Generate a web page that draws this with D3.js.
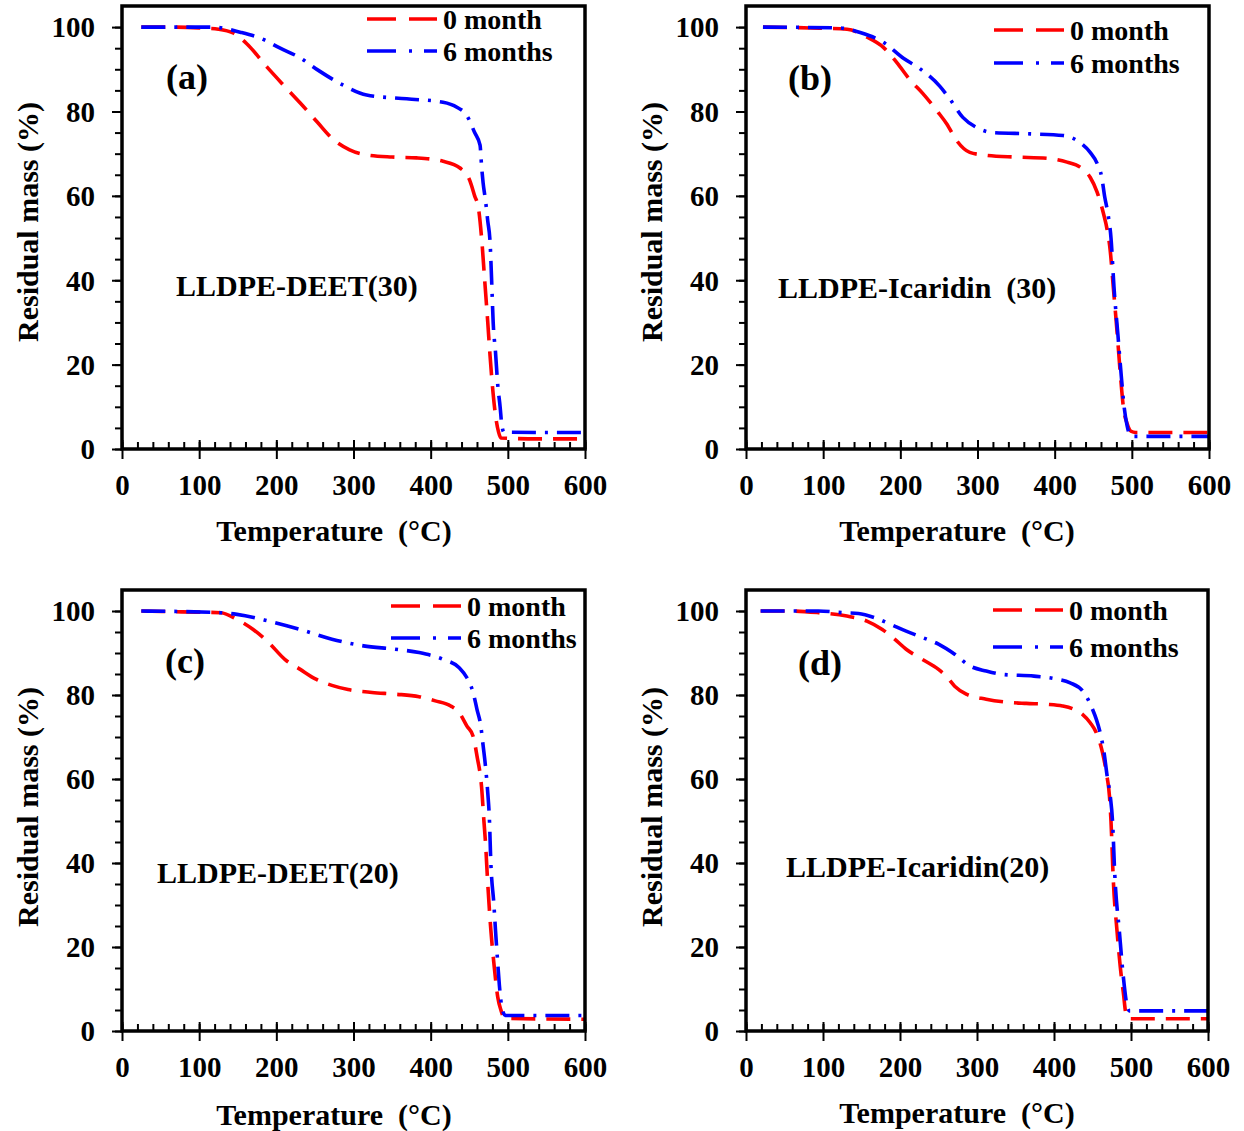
<!DOCTYPE html>
<html>
<head>
<meta charset="utf-8">
<script src="https://cdn.jsdelivr.net/npm/d3@7"></script>
<style>
  body { margin: 0; background: #fff; }
  svg text { font-family: "Liberation Serif", "Times New Roman", serif; font-weight: bold; fill: #000; }
</style>
</head>
<body>
<svg id="chart" width="1244" height="1131"></svg>
<script>
// series names and tick labels
const seriesNames = ["0 month", "6 months"];
const xTicks = [0, 100, 200, 300, 400, 500, 600];
const yTicks = [0, 20, 40, 60, 80, 100];

// [temperature (°C), residual mass (%)]
const deet30_0 = [[25,100],[60,100],[100,99.8],[125,99.5],[144,98.6],[162,96],[188,90.5],[209,86.3],[231,82],[253,77.5],[273,73.5],[295,70.9],[317,69.7],[350,69.2],[382,69],[416,68.2],[438,66.6],[451,63.5],[457,60],[462,57],[466,50],[470,40],[474,30],[477,22],[481,13],[484,8],[488,4],[491,2.6],[540,2.4],[600,2.4]];
const deet30_6 = [[25,100],[118,100],[153,98.8],[179,97.4],[205,95],[231,92.7],[254,89.8],[286,86.3],[317,83.9],[369,83],[416,82.2],[434,81],[447,79],[457,75],[464,72],[466,67],[468,63],[471,59],[474,54],[477,49],[479,40],[481,30],[484,23],[487,15],[490,10],[492,6],[495,4],[540,3.9],[600,3.9]];

const icar30_0 = [[22,100],[83,99.8],[131,99.5],[157,97.6],[178,95.2],[195,91.7],[213,87.4],[229,84.3],[249,79.8],[260,77.1],[273,73.1],[290,70.3],[312,69.6],[350,69.2],[390,68.9],[416,68],[433,66.8],[446,64.4],[455,60.9],[463,56],[468,52],[472,47],[476,38.3],[481,27.5],[485,18],[489,10],[494,6],[499,4.2],[505,3.9],[600,3.9]];
const icar30_6 = [[22,100],[120,99.8],[148,98.7],[178,96.4],[204,92.6],[225,90.2],[251,86],[264,83],[281,78.6],[299,76.2],[320,75],[368,74.7],[411,74.3],[433,72.6],[446,70.3],[455,67.7],[461,64.4],[465,59.6],[469,55.8],[473,50],[477,38],[482,27],[486,18],[490,10],[494,5.4],[498,3.2],[502,3],[600,3]];

const deet20_0 = [[25,100],[77,99.8],[128,99.6],[149,98],[170,95.6],[190,92.5],[211,88.5],[231,86.1],[252,83.7],[272,82.3],[293,81.3],[324,80.6],[354,80.2],[385,79.6],[406,78.6],[426,77.4],[437,75.8],[447,72.6],[455,70.2],[460,65.5],[466,58],[469,50],[471,45],[474,35],[478,24],[482,16],[487,8],[491,5],[496,3],[600,2.8]];
const deet20_6 = [[25,100],[128,99.6],[149,99.2],[190,97.6],[231,95.6],[272,93.3],[313,91.7],[354,90.9],[385,90.1],[416,88.5],[437,86.5],[447,84.1],[455,80.6],[460,76.6],[465,72.6],[468,67.9],[471,63.1],[474,56.7],[476,51],[478,40],[482,30],[484,24],[487,16],[489,11],[493,5],[497,3.7],[600,3.7]];

const icar20_0 = [[19,100],[58,100],[94,99.6],[131,98.8],[157,97.6],[177,95.6],[193,93.3],[208,90.9],[229,88.5],[250,86.1],[260,84.5],[271,82.1],[286,80.2],[312,79],[338,78.3],[364,78],[390,77.8],[411,77.4],[426,76.6],[437,75.4],[447,73.4],[455,71],[463,66.3],[468,61.5],[472,56],[474,50],[477,36],[482,23.5],[486,15.4],[490,9.2],[494,3.6],[498,2.9],[600,2.9]];
const icar20_6 = [[19,100],[94,100],[126,99.6],[146,99.4],[167,98.4],[188,96.8],[208,95.2],[229,93.7],[250,92.1],[271,89.7],[291,86.9],[312,85.7],[333,84.9],[374,84.5],[400,83.9],[421,82.9],[437,81],[444,79],[450,76.6],[455,74.2],[460,71],[465,66.3],[469,60.7],[473,56],[476,50],[479,37],[485,23.5],[490,13],[494,6.9],[498,4.8],[600,4.8]];

const colors = ["#ff0000", "#0000ff"];
const dashes = ["24,11", "24,9,3,9"];

// panel layout
const panels = [
  { left: 122, right: 585, top: 6, bottom: 449, label: "(a)", lx: 187, ly: 76, name: "LLDPE-DEET(30)", nx: 176, ny: 285,
    series: [deet30_0, deet30_6], legX: 245, legY: [13, 45], ytx: 27, yty: 222, xtx: 334, xty: 530 },
  { left: 746, right: 1209, top: 6, bottom: 449, label: "(b)", lx: 810, ly: 77, name: "LLDPE-Icaridin\u00a0\u00a0(30)", nx: 778, ny: 287,
    series: [icar30_0, icar30_6], legX: 248, legY: [24, 57], ytx: 651, yty: 222, xtx: 957, xty: 530 },
  { left: 122, right: 585, top: 590, bottom: 1031, label: "(c)", lx: 185, ly: 660, name: "LLDPE-DEET(20)", nx: 157, ny: 872,
    series: [deet20_0, deet20_6], legX: 269, legY: [16, 48], ytx: 27, yty: 807, xtx: 334, xty: 1114 },
  { left: 746, right: 1208, top: 590, bottom: 1031, label: "(d)", lx: 820, ly: 662, name: "LLDPE-Icaridin(20)", nx: 786, ny: 866,
    series: [icar20_0, icar20_6], legX: 247, legY: [20, 57], ytx: 651, yty: 807, xtx: 957, xty: 1112 }
];

const svg = d3.select("#chart");

panels.forEach(function(p) {
  const w = p.right - p.left, h = p.bottom - p.top;
  const x = d3.scaleLinear().domain([0, 600]).range([0, w]);
  const y = d3.scaleLinear().domain([0, 105]).range([h, 0]);

  const g = svg.append("g").attr("transform", "translate(" + p.left + "," + p.top + ")");

  // curves
  const line = d3.line()
    .x(function(d) { return x(d[0]); })
    .y(function(d) { return y(d[1]); })
    .curve(d3.curveMonotoneX);

  p.series.forEach(function(s, i) {
    g.append("path")
      .datum(s)
      .attr("d", line)
      .attr("fill", "none")
      .attr("stroke", colors[i])
      .attr("stroke-width", 3.6)
      .attr("stroke-dasharray", dashes[i]);
  });

  // y axis: major + minor ticks outside
  const yMinor = d3.range(0, 105, 5);
  g.append("g")
    .call(d3.axisLeft(y).tickValues(yMinor).tickSize(7).tickFormat(""))
    .call(function(a) { a.select(".domain").remove(); a.selectAll("line").attr("stroke-width", 2); });
  g.append("g")
    .call(d3.axisLeft(y).tickValues(yTicks).tickSize(10).tickPadding(17))
    .call(function(a) {
      a.select(".domain").remove();
      a.selectAll("line").attr("stroke-width", 2);
      a.selectAll("text").style("font-size", "29px").attr("dy", "0.34em");
    });

  // x axis: major crossing, minor inside
  const xMinor = d3.range(0, 620, 20);
  g.append("g")
    .attr("transform", "translate(0," + h + ")")
    .call(d3.axisTop(x).tickValues(xMinor).tickSize(7).tickFormat(""))
    .call(function(a) { a.select(".domain").remove(); a.selectAll("line").attr("stroke-width", 2); });
  g.append("g")
    .attr("transform", "translate(0," + h + ")")
    .call(d3.axisTop(x).tickValues(xTicks).tickSize(9).tickFormat(""))
    .call(function(a) { a.select(".domain").remove(); a.selectAll("line").attr("stroke-width", 2); });
  g.append("g")
    .attr("transform", "translate(0," + h + ")")
    .call(d3.axisBottom(x).tickValues(xTicks).tickSize(10).tickPadding(15))
    .call(function(a) {
      a.select(".domain").remove();
      a.selectAll("line").attr("stroke-width", 2);
      a.selectAll("text").style("font-size", "29px").attr("dy", "0.71em");
    });

  // frame
  g.append("rect")
    .attr("x", 0).attr("y", 0)
    .attr("width", w).attr("height", h)
    .attr("fill", "none")
    .attr("stroke", "#000")
    .attr("stroke-width", 3.5);

  // legend
  seriesNames.forEach(function(n, i) {
    g.append("line")
      .attr("x1", p.legX).attr("x2", p.legX + 70)
      .attr("y1", p.legY[i]).attr("y2", p.legY[i])
      .attr("stroke", colors[i])
      .attr("stroke-width", 3.6)
      .attr("stroke-dasharray", i === 0 ? "29,13" : "29,13,3,12");
    g.append("text")
      .attr("x", p.legX + 76).attr("y", p.legY[i])
      .attr("dy", "0.35em")
      .style("font-size", "28px")
      .text(n);
  });

  // panel letter and sample name
  svg.append("text")
    .attr("x", p.lx).attr("y", p.ly).attr("dy", "0.35em")
    .attr("text-anchor", "middle")
    .style("font-size", "36px")
    .text(p.label);
  svg.append("text")
    .attr("x", p.nx).attr("y", p.ny).attr("dy", "0.35em")
    .style("font-size", "30px")
    .text(p.name);

  // axis titles
  svg.append("text")
    .attr("transform", "translate(" + p.ytx + "," + p.yty + ") rotate(-90)")
    .attr("text-anchor", "middle")
    .attr("dy", "0.35em")
    .style("font-size", "30px")
    .text("Residual mass (%)");
  svg.append("text")
    .attr("x", p.xtx).attr("y", p.xty)
    .attr("text-anchor", "middle")
    .attr("dy", "0.35em")
    .style("font-size", "30px")
    .text("Temperature\u00a0\u00a0(\u00b0C)");
});
</script>
</body>
</html>
